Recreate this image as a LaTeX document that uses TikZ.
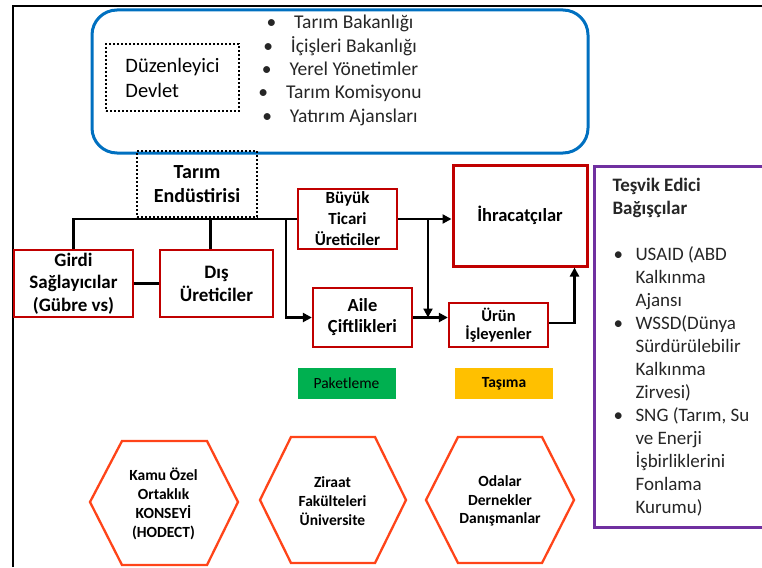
\documentclass[tikz,border=0pt]{standalone}
\usepackage{fontspec}
\setmainfont{Carlito}
\usetikzlibrary{arrows.meta}

\definecolor{boxred}{HTML}{C00000}
\definecolor{govblue}{HTML}{0070C0}
\definecolor{donorpurple}{HTML}{7030A0}
\definecolor{hexorange}{HTML}{FF4419}
\definecolor{packgreen}{HTML}{00B050}
\definecolor{carryyellow}{HTML}{FFC000}
\definecolor{ink}{HTML}{262626}

\tikzset{
  redbox/.style={draw=boxred, line width=2.3pt, align=center, inner sep=0pt, font=\bfseries},
  dotbox/.style={draw, line width=2pt, dash pattern=on 2pt off 2pt, inner sep=0pt},
  conn/.style={line width=2.5pt},
  arr/.style={conn, -{Triangle[length=9pt,width=9pt]}},
  hexa/.style={draw=hexorange, line width=2.3pt, line join=miter},
  hextext/.style={align=center, font=\fontsize{15.5}{18.8}\selectfont\bfseries},
  task/.style={minimum height=31pt, minimum width=98pt, inner sep=0pt, font=\fontsize{15.5}{17}\selectfont},
}

\begin{document}
\begin{tikzpicture}[x=1pt, y=-1pt]
    \useasboundingbox (0,0) rectangle (762,567);
    \draw[line width=2pt] (13,567) -- (13,6) -- (762,6);
    % regulating state
    \draw[govblue, line width=3pt, rounded corners=25pt] (92,10) rectangle (588,153);
    \node[dotbox, minimum width=133pt, minimum height=67pt, align=left,
        font=\fontsize{20.5}{25}\selectfont] (devlet) at (172.5,77.5) {Düzenleyici\\Devlet};
    \node[align=center, font=\fontsize{19.5}{23.3}\selectfont, text=ink] (kurumlar) at (340,70.5)
        {\textbullet\hspace{18pt}Tarım Bakanlığı\\
         \textbullet\hspace{18pt}İçişleri Bakanlığı\\
         \textbullet\hspace{18pt}Yerel Yönetimler\\
         \textbullet\hspace{18pt}Tarım Komisyonu\\
         \textbullet\hspace{18pt}Yatırım Ajansları};
    \node[dotbox, minimum width=120pt, minimum height=66pt, align=center,
        font=\fontsize{20}{24}\selectfont\bfseries] (endustri) at (197,184) {Tarım\\Endüstirisi};

    % chain
    \node[redbox, minimum width=119pt, minimum height=67pt, font=\fontsize{19}{22.5}\selectfont\bfseries]
        (girdi) at (73.5,283.5) {Girdi\\Sağlayıcılar\\(Gübre vs)};
    \node[redbox, minimum width=113pt, minimum height=67pt, font=\fontsize{19}{23}\selectfont\bfseries]
        (dis) at (216.5,283.5) {Dış\\Üreticiler};
    \node[redbox, minimum width=99pt, minimum height=60pt, font=\fontsize{17}{21}\selectfont\bfseries]
        (buyuk) at (347.5,219) {Büyük\\Ticari\\Üreticiler};
    \node[redbox, line width=3pt, minimum width=134pt, minimum height=101pt, font=\fontsize{18.5}{22}\selectfont\bfseries]
        (ihr) at (520,215.5) {İhracatçılar};
    \node[redbox, minimum width=99pt, minimum height=59pt, font=\fontsize{18.5}{21}\selectfont\bfseries]
        (aile) at (362.5,317.5) {Aile\\Çiftlikleri};
    \node[redbox, minimum width=99pt, minimum height=44pt, font=\fontsize{16.5}{18}\selectfont\bfseries]
        (urun) at (498.5,325) {Ürün\\İşleyenler};

    \coordinate (split) at (286,219);
    \coordinate (merge) at (428,219);
    \draw[conn] (girdi.north) |- (buyuk.west);
    \draw[conn] ([xshift=-6pt]dis.north) -- ([xshift=-6pt]dis.north |- buyuk.west);
    \draw[conn] (girdi.east) -- (dis.west);
    \draw[arr] (split) |- (aile.west);
    \draw[arr] (buyuk.east) -- (ihr.west |- buyuk.east);
    \draw[arr] (merge) -- (merge |- aile.east);
    \draw[arr] (aile.east) -- (urun.west |- aile.east);
    \draw[arr] ([yshift=2pt]urun.east) -| ([xshift=-14pt]ihr.south east);

    % services
    \node[task, fill=packgreen] (paket) at (346.5,383.5) {Paketleme};
    \node[task, fill=carryyellow, font=\fontsize{15.5}{17}\selectfont\bfseries]
        (tasima) at (504,383.5) {Taşıma};

    % support bodies
    \draw[hexa] (90,502) -- (122,441) -- (207,441) -- (238,502) -- (207,565) -- (122,565) -- cycle;
    \node[hextext] (kamu) at (163.5,504) {Kamu Özel\\Ortaklık\\KONSEYİ\\(HODECT)};
    \draw[hexa] (260,500) -- (291,437) -- (375,437) -- (406,500) -- (375,563) -- (291,563) -- cycle;
    \node[hextext] (ziraat) at (332.5,501) {Ziraat\\Fakülteleri\\Üniversite};
    \draw[hexa] (426,500) -- (458,437) -- (542,437) -- (574,500) -- (542,563) -- (458,563) -- cycle;
    \node[hextext] (odalar) at (500,501) {Odalar\\Dernekler\\Danışmanlar};

    % donors
    \draw[donorpurple, line width=3pt] (762,166) -- (594,166) -- (594,527) -- (762,527);
    \node[anchor=west, align=left, text=ink, font=\fontsize{19}{23}\selectfont] (bagis) at (609,347)
        {\textbf{Teşvik Edici}\\
         \textbf{Bağışçılar}\\[23pt]
         \hspace*{1pt}\makebox[22pt][l]{\textbullet}USAID (ABD\\
         \hspace*{23pt}Kalkınma\\
         \hspace*{23pt}Ajansı\\
         \hspace*{1pt}\makebox[22pt][l]{\textbullet}WSSD(Dünya\\
         \hspace*{23pt}Sürdürülebilir\\
         \hspace*{23pt}Kalkınma\\
         \hspace*{23pt}Zirvesi)\\
         \hspace*{1pt}\makebox[22pt][l]{\textbullet}SNG (Tarım, Su\\
         \hspace*{23pt}ve Enerji\\
         \hspace*{23pt}İşbirliklerini\\
         \hspace*{23pt}Fonlama\\
         \hspace*{23pt}Kurumu)};
\end{tikzpicture}
\end{document}
